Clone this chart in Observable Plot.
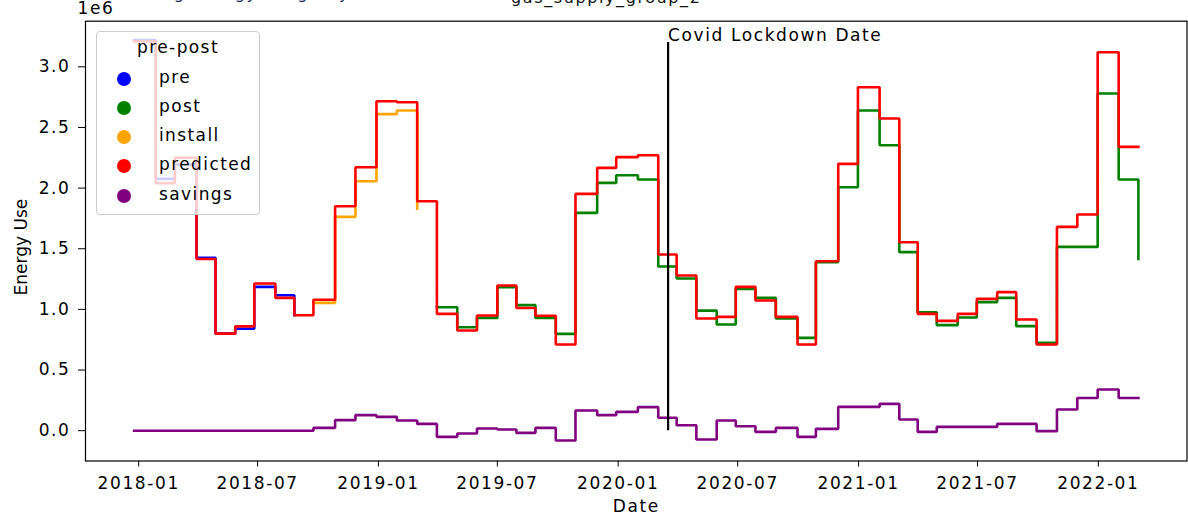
<!DOCTYPE html>
<html>
<head>
<meta charset="utf-8">
<script src="https://cdn.jsdelivr.net/npm/d3@7"></script>
<script src="https://cdn.jsdelivr.net/npm/@observablehq/plot@0.6"></script>
<style>
  body { margin: 0; background: #fff; }
  #wrap { position: relative; width: 1188px; height: 523px; overflow: hidden; font-family: "DejaVu Sans", sans-serif; }
  .legend { position: absolute; left: 96px; top: 31px; width: 164px; height: 184px; box-sizing: border-box;
            background: rgba(255,255,255,0.8); border: 1px solid #cccccc; border-radius: 4px;
            font-size: 17px; letter-spacing: 1.4px; color: #000; }
  .legend .ttl { position: absolute; left: 0; width: 100%; text-align: center; top: 5px; line-height: 20px; }
  .legend .item { position: absolute; left: 0; height: 20px; line-height: 20px; }
  .legend .dot { position: absolute; left: 20px; top: 3px; width: 14px; height: 14px; border-radius: 50%; }
  .legend .lab { position: absolute; left: 62px; top: -2px; white-space: nowrap; }
</style>
</head>
<body>
<div id="wrap"></div>
<script>
// Meter read dates (one reading per billing period)
const readDates = [
  "2017-12-25","2018-01-27","2018-02-25","2018-03-30","2018-04-28","2018-05-28","2018-06-26",
  "2018-07-28","2018-08-26","2018-09-24","2018-10-27","2018-11-27","2018-12-29","2019-01-29",
  "2019-03-01","2019-03-31","2019-05-01","2019-05-31","2019-07-01","2019-07-30","2019-08-28",
  "2019-09-28","2019-10-28","2019-11-30","2019-12-29","2020-01-31","2020-03-02","2020-03-30",
  "2020-04-29","2020-05-30","2020-06-28","2020-07-28","2020-08-28","2020-09-30","2020-10-28",
  "2020-12-01","2020-12-31","2021-02-02","2021-03-04","2021-04-01","2021-04-30","2021-06-01",
  "2021-06-30","2021-07-31","2021-08-29","2021-09-29","2021-10-30","2021-11-30","2021-12-31",
  "2022-02-01","2022-03-03"
];

// Energy use in millions (axis shows the 1e6 multiplier)
const preValues = [3.22, 2.076, 2.195, 1.425, 0.80, 0.84, 1.186, 1.117, 0.952];            // reads 0–8
const installValues = [1.054, 1.763, 2.057, 2.61, 2.64, 1.83];                            // reads 9–14
const postValues = [1.018, 0.853, 0.93, 1.183, 1.035, 0.93, 0.798, 1.796, 2.043, 2.106,
  2.071, 1.354, 1.255, 0.99, 0.876, 1.169, 1.095, 0.925, 0.765, 1.39, 2.007, 2.64, 2.353,
  1.472, 0.977, 0.87, 0.933, 1.06, 1.095, 0.862, 0.724, 1.515, 1.515, 2.78, 2.071, 1.416]; // reads 15–50
const predictedValues = [3.21, 2.04, 2.25, 1.416, 0.80, 0.86, 1.213, 1.095, 0.952, 1.08,
  1.85, 2.172, 2.716, 2.708, 1.892, 0.963, 0.826, 0.95, 1.197, 1.012,
  0.948, 0.71, 1.952, 2.167, 2.255, 2.271, 1.453, 1.28, 0.925, 0.938,
  1.186, 1.073, 0.938, 0.71, 1.397, 2.2, 2.832, 2.574, 1.554, 0.963,
  0.905, 0.963, 1.087, 1.142, 0.917, 0.71, 1.68, 1.782, 3.12, 2.34, 2.34];
const savingsValues = [0, 0, 0, 0, 0, 0, 0, 0, 0,
  0.023, 0.087, 0.128, 0.114, 0.084, 0.056,
  -0.051, -0.023, 0.018, 0.01, -0.018, 0.023, -0.081, 0.166, 0.128, 0.155,
  0.194, 0.106, 0.045, -0.073, 0.084, 0.037, -0.01, 0.023, -0.051, 0.015,
  0.196, 0.196, 0.221, 0.092, -0.01, 0.031, 0.031, 0.031, 0.056, 0.056,
  -0.004, 0.175, 0.27, 0.34, 0.27, 0.27];

const seriesNames = ["pre", "post", "install", "predicted", "savings"];
const seriesColors = ["blue", "green", "orange", "red", "purple"];

const lockdownDate = "2020-03-17";
const lockdownTop = 3.2;
const xTickDates = ["2018-01-01","2018-07-01","2019-01-01","2019-07-01","2020-01-01",
  "2020-07-01","2021-01-01","2021-07-01","2022-01-01"];
const yTickValues = [0, 0.5, 1.0, 1.5, 2.0, 2.5, 3.0];
const xDomain = ["2017-10-12", "2022-05-16"];
const yDomain = [-0.25, 3.376];

const parse = d3.utcParse("%Y-%m-%d");
const rows = (values, start) => values.map((v, i) => ({date: parse(readDates[start + i]), value: v}));

const seriesRows = {
  pre: rows(preValues, 0),
  install: rows(installValues, 9),
  post: rows(postValues, 15),
  predicted: rows(predictedValues, 0),
  savings: rows(savingsValues, 0)
};
const color = Object.fromEntries(seriesNames.map((s, i) => [s, seriesColors[i]]));

const stepLine = (name) => Plot.line(seriesRows[name], {
  x: "date", y: "value", curve: "step-after",
  stroke: color[name], strokeWidth: 2.6, strokeLinecap: "square", strokeLinejoin: "miter"
});

const chart = Plot.plot({
  width: 1188,
  height: 523,
  marginLeft: 85,
  marginRight: 1.5,
  marginTop: 20.7,
  marginBottom: 62.5,
  style: {fontFamily: "DejaVu Sans", fontSize: "17px", letterSpacing: "1.6px", color: "#000", background: "#fff", overflow: "hidden"},
  x: {type: "utc", domain: xDomain.map(parse), ticks: xTickDates.map(parse),
      tickFormat: d3.utcFormat("%Y-%m"), tickSize: 6, tickPadding: 10, label: null},
  y: {domain: yDomain, ticks: yTickValues, tickFormat: d3.format(".1f"),
      tickSize: 7, tickPadding: 8, label: null},
  marks: [
    stepLine("pre"),
    stepLine("post"),
    stepLine("install"),
    stepLine("predicted"),
    stepLine("savings"),
    Plot.ruleX([parse(lockdownDate)], {y1: 0, y2: lockdownTop, stroke: "black", strokeWidth: 2.2}),
    Plot.text([{date: parse(lockdownDate), y: lockdownTop}], {
      x: "date", y: "y", text: () => "Covid Lockdown Date",
      textAnchor: "start", lineAnchor: "bottom", dy: -1.5, fill: "black"
    }),
    Plot.frame({stroke: "black", strokeWidth: 1.2}),
    Plot.text(["Energy Use"], {frameAnchor: "left", textAnchor: "middle", rotate: -90, dx: -64, dy: 6, lineAnchor: "middle", fill: "black"}),
    Plot.text(["Date"], {frameAnchor: "bottom", dy: 46, lineAnchor: "middle", fill: "black"}),
    Plot.text(["1e6"], {frameAnchor: "top-left", textAnchor: "start", dx: -8, dy: -7, lineAnchor: "bottom", fill: "black"}),
    Plot.text(["gas_supply_group_2"], {frameAnchor: "top", dx: -30, dy: -18.5, lineAnchor: "bottom", fontSize: 16, fill: "#111"}),
    Plot.text(["Plotting energy usage by meter"], {frameAnchor: "top-left", textAnchor: "start", dx: 26, dy: -22.5, lineAnchor: "bottom", fontSize: 16, fill: "#1c2a5a"})
  ]
});

// the rotated axis title keeps natural spacing
d3.select(chart).selectAll("text").filter(function () { return this.textContent === "Energy Use"; })
  .style("letter-spacing", "0px");

const wrap = document.getElementById("wrap");
wrap.appendChild(chart);

// legend box drawn over the plot area
const legend = document.createElement("div");
legend.className = "legend";
const title = document.createElement("div");
title.className = "ttl";
title.textContent = "pre-post";
legend.appendChild(title);
const itemTops = [37, 66, 95, 124, 154];
seriesNames.forEach((name, i) => {
  const item = document.createElement("div");
  item.className = "item";
  item.style.top = itemTops[i] + "px";
  const dot = document.createElement("span");
  dot.className = "dot";
  dot.style.background = color[name];
  const lab = document.createElement("span");
  lab.className = "lab";
  lab.textContent = name;
  item.appendChild(dot);
  item.appendChild(lab);
  legend.appendChild(item);
});
wrap.appendChild(legend);
</script>
</body>
</html>
